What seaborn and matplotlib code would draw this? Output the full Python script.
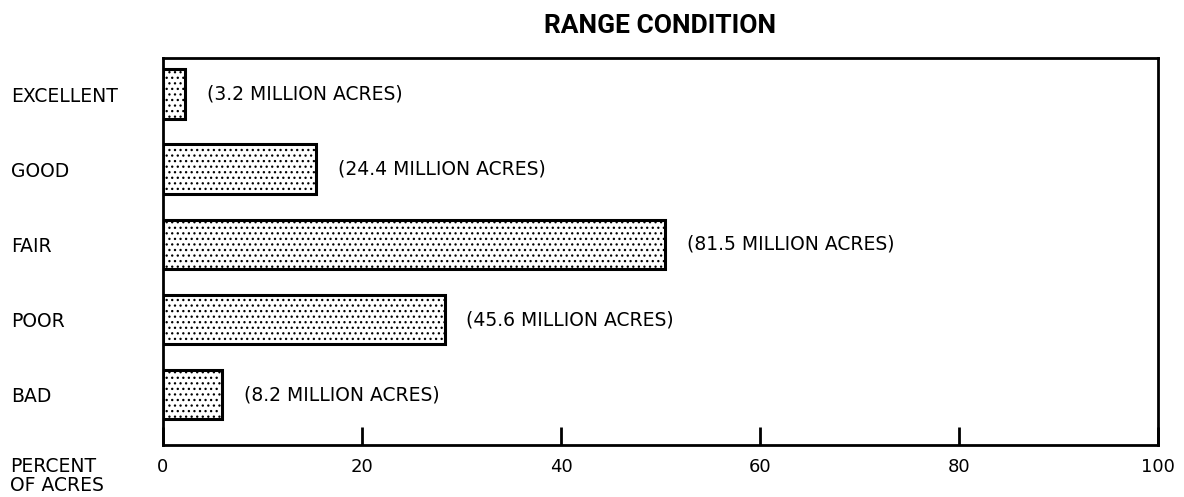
import pandas as pd
import matplotlib.pyplot as plt
import seaborn as sns

# Range condition data
conditions = ['EXCELLENT', 'GOOD', 'FAIR', 'POOR', 'BAD']
percent_of_acres = [2.2, 15.4, 50.5, 28.3, 5.9]
acre_labels = ['(3.2 MILLION ACRES)', '(24.4 MILLION ACRES)', '(81.5 MILLION ACRES)',
               '(45.6 MILLION ACRES)', '(8.2 MILLION ACRES)']
x_ticks = [0, 20, 40, 60, 80, 100]

df = pd.DataFrame({'condition': conditions, 'percent': percent_of_acres})

sns.set_style('white')
plt.rcParams['font.family'] = ['DejaVu Sans']
plt.rcParams['text.color'] = 'black'
plt.rcParams['xtick.color'] = 'black'
plt.rcParams['ytick.color'] = 'black'
plt.rcParams['hatch.linewidth'] = 0.9

fig = plt.figure(figsize=(11.84, 4.97), dpi=100)
ax = fig.add_axes([163 / 1184, 1 - 445 / 497, (1158 - 163) / 1184, (445 - 58) / 497])

sns.barplot(data=df, x='percent', y='condition', orient='h', ax=ax,
            color='white', edgecolor='black', linewidth=2.2, width=0.66)
for bar in ax.patches:
    bar.set_hatch('...')

for i, (val, lab) in enumerate(zip(percent_of_acres, acre_labels)):
    ax.text(val + 2.2, i, lab, va='center', ha='left', fontsize=13.5)

ax.set_xlim(0, 100)
ax.set_ylim(4.67, -0.48)
ax.set_xticks(x_ticks)
ax.set_xticklabels([str(t) for t in x_ticks], fontsize=13)
ax.tick_params(axis='x', bottom=True, direction='in', length=13, width=2, pad=9)
ax.tick_params(axis='y', left=False, pad=106)
for t in ax.get_yticklabels():
    t.set_ha('left')
    t.set_fontsize(13.5)
ax.set_xlabel('')
ax.set_ylabel('')
for s in ax.spines.values():
    s.set_linewidth(2)
    s.set_color('black')

ax.set_title('RANGE CONDITION', fontsize=19, fontweight='bold',
             family=['Roboto', 'DejaVu Sans'], pad=18)
fig.text(10 / 1184, 1 - 476 / 497, 'PERCENT\nOF ACRES', ha='left', va='center',
         fontsize=13.5, linespacing=0.95)

fig.savefig('out.png', dpi=100)
